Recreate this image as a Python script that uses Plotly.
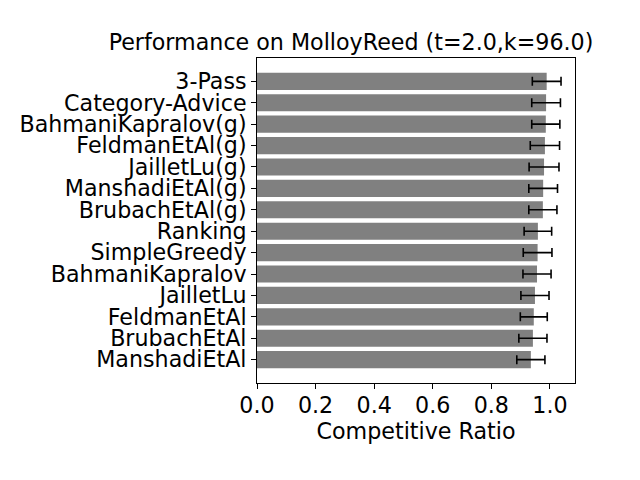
import plotly.graph_objects as go

algorithms = ["3-Pass", "Category-Advice", "BahmaniKapralov(g)", "FeldmanEtAl(g)",
              "JailletLu(g)", "ManshadiEtAl(g)", "BrubachEtAl(g)", "Ranking",
              "SimpleGreedy", "BahmaniKapralov", "JailletLu", "FeldmanEtAl",
              "BrubachEtAl", "ManshadiEtAl"]
ratios = [0.989, 0.987, 0.986, 0.983, 0.980, 0.977, 0.976, 0.959,
          0.958, 0.956, 0.949, 0.945, 0.942, 0.935]
errors = [0.049, 0.049, 0.048, 0.050, 0.051, 0.049, 0.048, 0.047,
          0.049, 0.048, 0.048, 0.046, 0.048, 0.048]
x_ticks = [0.0, 0.2, 0.4, 0.6, 0.8, 1.0]

n = len(algorithms)
ypos = [n - 1 - i for i in range(n)]

font = "DejaVu Sans"
fs = 22.2
fig = go.Figure(go.Bar(
    x=ratios, y=ypos, orientation="h", width=0.8,
    marker=dict(color="#808080", line=dict(width=0)),
    error_x=dict(type="data", array=errors, color="black", thickness=1.6, width=4.5),
))

fig.update_layout(
    width=640, height=480,
    margin=dict(l=256.5, r=65, t=58.3, b=96.7, pad=0, autoexpand=False),
    plot_bgcolor="white", paper_bgcolor="white",
    showlegend=False,
    font=dict(family=font, size=fs, color="black"),
    title=dict(text="Performance on MolloyReed (t=2.0,k=96.0)",
               x=351 / 640, xref="container", xanchor="center",
               y=1 - 42 / 480, yref="container", yanchor="middle",
               font=dict(family=font, size=fs, color="black")),
    xaxis=dict(range=[0, 1.0857], tickvals=x_ticks,
               ticktext=[f"{v:.1f}" for v in x_ticks],
               ticks="outside", ticklen=5, tickwidth=1, tickcolor="black",
               ticklabelstandoff=-3,
               showgrid=False, zeroline=False,
               showline=True, linecolor="black", linewidth=1, mirror=True,
               title=dict(text="Competitive Ratio", standoff=4,
                          font=dict(family=font, size=fs, color="black"))),
    yaxis=dict(range=[-1.09, 14.09], tickvals=ypos, ticktext=algorithms,
               ticks="outside", ticklen=5, tickwidth=1, tickcolor="black",
               showgrid=False, zeroline=False,
               showline=True, linecolor="black", linewidth=1, mirror=True),
)

fig.write_html("out.html", config={"displayModeBar": False},
               post_script="document.body.style.margin='0';")
